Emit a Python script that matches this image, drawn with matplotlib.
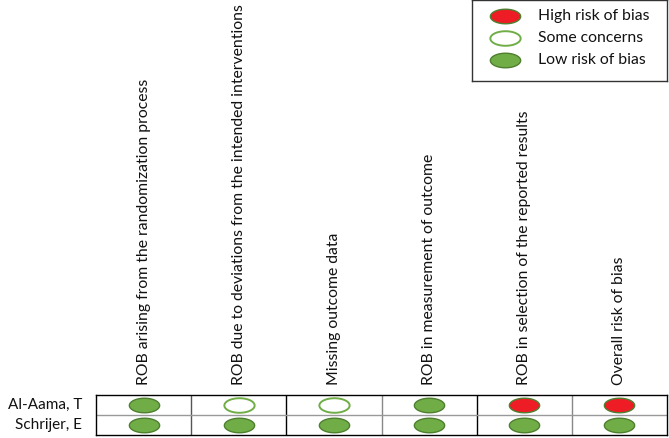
import matplotlib
matplotlib.use("Agg")
import matplotlib.pyplot as plt
from matplotlib.path import Path
import numpy as np

plt.rcParams['font.family'] = ['Lato', 'DejaVu Sans']

domains = [
    "ROB arising from the randomization process",
    "ROB due to deviations from the intended interventions",
    "Missing outcome data",
    "ROB in measurement of outcome",
    "ROB in selection of the reported results",
    "Overall risk of bias",
]
studies = ["Al-Aama, T", "Schrijer, E"]
# judgements: H = high, S = some concerns, L = low
judgements = [
    ["L", "S", "S", "L", "H", "H"],
    ["L", "L", "L", "L", "L", "L"],
]
legend_labels = ["High risk of bias", "Some concerns", "Low risk of bias"]
legend_keys = ["H", "S", "L"]

GREEN = "#70AD47"
EDGE = "#4E7F2E"
RED = "#EE1C25"
styles = {
    "H": dict(markerfacecolor=RED, markeredgecolor=EDGE, markeredgewidth=1.0),
    "S": dict(markerfacecolor="white", markeredgecolor=GREEN, markeredgewidth=1.4),
    "L": dict(markerfacecolor=GREEN, markeredgecolor=EDGE, markeredgewidth=1.0),
}

# ellipse marker
t = np.linspace(0, 2 * np.pi, 80)
ell = Path(np.column_stack([np.cos(t), 0.48 * np.sin(t)]), closed=True)
MS = 21.8
FS = 11.3
TXT = "#111111"

W, H = 669, 438
fig = plt.figure(figsize=(W / 100, H / 100), dpi=100)

# table axes
x0, x1, ytop, ybot = 96, 667, 395, 435
ax = fig.add_axes([x0 / W, 1 - ybot / H, (x1 - x0) / W, (ybot - ytop) / H])
ncol, nrow = len(domains), len(studies)
ax.set_xlim(0, ncol)
ax.set_ylim(nrow, 0)
ax.set_xticks([])
ax.set_yticks([])
for s in ax.spines.values():
    s.set_color("black")
    s.set_linewidth(1.0)

vcolors = ["#555555", "black", "#888888", "black", "#888888"]
for i in range(1, ncol):
    ax.axvline(i, color=vcolors[i - 1], lw=1.0)
for j in range(1, nrow):
    ax.axhline(j, color="#999999", lw=1.0)

for j, row in enumerate(judgements):
    for i, k in enumerate(row):
        ax.plot(i + 0.5, j + 0.5, marker=ell, markersize=MS, linestyle="none",
                clip_on=False, **styles[k])

for i, d in enumerate(domains):
    ax.annotate(d, (i + 0.5, 0), xytext=(0, 7.5), textcoords="offset points",
                rotation=90, ha="center", va="bottom", fontsize=FS,
                color=TXT, annotation_clip=False)
for j, s in enumerate(studies):
    ax.annotate(s, (0, j + 0.5), xytext=(-10, 0), textcoords="offset points",
                ha="right", va="center", fontsize=FS - 0.3, color=TXT,
                annotation_clip=False)

# legend axes
lx0, lx1, ly0, ly1 = 472, 667, 0, 81
lax = fig.add_axes([lx0 / W, 1 - ly1 / H, (lx1 - lx0) / W, (ly1 - ly0) / H])
lax.set_xlim(0, 1)
top = -16 / 22
lax.set_ylim(top + 81 / 22, top)
lax.set_xticks([])
lax.set_yticks([])
for s in lax.spines.values():
    s.set_color("#333333")
    s.set_linewidth(1.0)
for j, (k, lab) in enumerate(zip(legend_keys, legend_labels)):
    lax.plot(0.17, j, marker=ell, markersize=MS, linestyle="none", **styles[k])
    lax.text(0.34, j, lab, ha="left", va="center", fontsize=FS, color=TXT)

fig.savefig("out.png", dpi=100)
